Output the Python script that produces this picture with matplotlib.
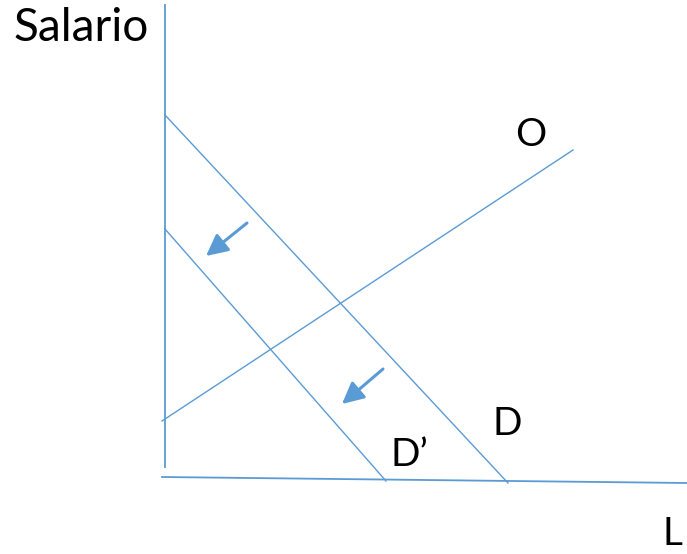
import matplotlib.pyplot as plt

# === Diagram data (pixel space of the original slide) ===
axis_y_x = [165, 165]
axis_y_y = [5, 467]
axis_x_x = [162, 687]
axis_x_y = [477, 483]

demand_x = [165, 508]
demand_y = [115, 483]
demand2_x = [165, 386]
demand2_y = [229, 481]
supply_x = [162, 573]
supply_y = [421, 150]

# arrows: (start, end)
shift_arrows = [((247, 223), (206, 256)), ((383, 369), (342, 404))]

# labels: text, x, y, size
labels = [("Salario", 14, 28, 33), ("O", 515, 135, 28), ("D", 493, 424, 28),
          ("D\u2019", 390, 455, 28), ("L", 662, 534, 28)]

blue = "#5B9BD5"

fig = plt.figure(figsize=(6.87, 5.54), dpi=100)
ax = fig.add_axes([0, 0, 1, 1])
ax.set_xlim(0, 687)
ax.set_ylim(554, 0)
ax.axis("off")

ax.plot(axis_y_x, axis_y_y, color=blue, lw=1.3)
ax.plot(axis_x_x, axis_x_y, color=blue, lw=1.3)
ax.plot(demand_x, demand_y, color=blue, lw=1.0)
ax.plot(demand2_x, demand2_y, color=blue, lw=1.0)
ax.plot(supply_x, supply_y, color=blue, lw=1.0)

for start, end in shift_arrows:
    ax.annotate("", xy=end, xytext=start,
                arrowprops=dict(arrowstyle="-|>,head_length=1.3,head_width=0.65",
                                color=blue, lw=2.2, shrinkA=0, shrinkB=0))

for text, x, y, size in labels:
    ax.text(x, y, text, fontsize=size, family="Lato", color="black",
            ha="left", va="center")

plt.savefig("out.png", dpi=100, facecolor="white")
